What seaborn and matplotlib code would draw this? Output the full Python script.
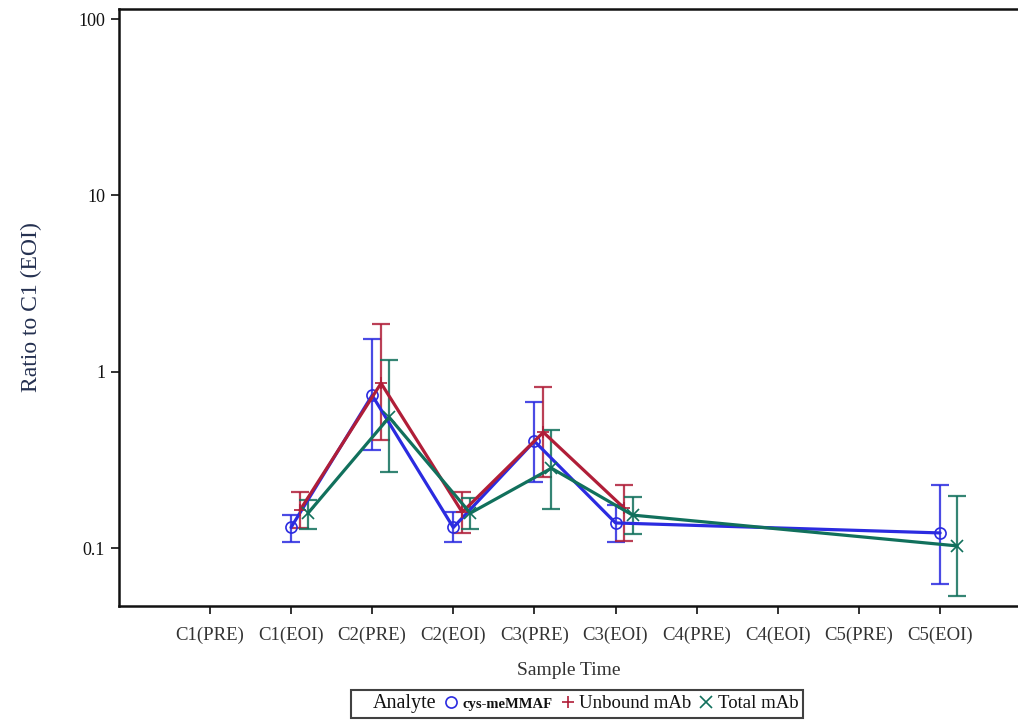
import numpy as np
import pandas as pd
import seaborn as sns
import matplotlib.pyplot as plt
from matplotlib.lines import Line2D

# Sample time categories
categories = ["C1(PRE)", "C1(EOI)", "C2(PRE)", "C2(EOI)", "C3(PRE)",
              "C3(EOI)", "C4(PRE)", "C4(EOI)", "C5(PRE)", "C5(EOI)"]
analytes = ["cys-meMMAF", "Unbound mAb", "Total mAb"]

nan = np.nan
# Ratio to C1 (EOI), with lower / upper error bar ends
mmaf_val = [nan, 0.131, 0.736, 0.131, 0.404, 0.139, nan, nan, nan, 0.122]
mmaf_lo = [nan, 0.108, 0.359, 0.108, 0.237, 0.108, nan, nan, nan, 0.0625]
mmaf_hi = [nan, 0.154, 1.53, 0.160, 0.672, 0.175, nan, nan, nan, 0.227]

unbound_val = [nan, 0.164, 0.861, 0.160, 0.454, 0.168, nan, nan, nan, nan]
unbound_lo = [nan, 0.130, 0.409, 0.122, 0.253, 0.110, nan, nan, nan, nan]
unbound_hi = [nan, 0.208, 1.86, 0.208, 0.817, 0.227, nan, nan, nan, nan]

total_val = [nan, 0.158, 0.552, 0.158, 0.284, 0.154, nan, nan, nan, 0.103]
total_lo = [nan, 0.128, 0.270, 0.128, 0.166, 0.120, nan, nan, nan, 0.0535]
total_hi = [nan, 0.187, 1.16, 0.192, 0.466, 0.194, nan, nan, nan, 0.197]

colors = {"cys-meMMAF": "#2B2BE0", "Unbound mAb": "#B01E38", "Total mAb": "#11705C"}
markers = {"cys-meMMAF": "o", "Unbound mAb": "+", "Total mAb": "x"}
dodge = {"cys-meMMAF": 0.0, "Unbound mAb": 0.11, "Total mAb": 0.21}

# Build long table
rows = []
for name, val, lo, hi in [("cys-meMMAF", mmaf_val, mmaf_lo, mmaf_hi),
                          ("Unbound mAb", unbound_val, unbound_lo, unbound_hi),
                          ("Total mAb", total_val, total_lo, total_hi)]:
    for i, cat in enumerate(categories):
        rows.append({"analyte": name, "time": cat, "pos": i + dodge[name],
                     "value": val[i], "lo": lo[i], "hi": hi[i]})
df = pd.DataFrame(rows).dropna()

sns.set_style("white")
plt.rcParams["font.family"] = ["Liberation Serif", "DejaVu Serif"]

fig = plt.figure(figsize=(10.18, 7.21), dpi=100)
ax = fig.add_axes([119 / 1018, 115 / 721, (1018 - 119) / 1018, 597 / 721])

for name in analytes:
    d = df[df["analyte"] == name]
    # Error bars
    ax.errorbar(d["pos"], d["value"], yerr=[d["value"] - d["lo"], d["hi"] - d["value"]],
                fmt="none", ecolor=colors[name], elinewidth=1.6, capsize=6.5,
                capthick=1.6, alpha=0.85, zorder=2)
    # Line with markers
    sns.lineplot(data=d, x="pos", y="value", color=colors[name], marker=markers[name],
                 estimator=None, sort=True, linewidth=2.3, markersize=8,
                 mfc="none", mec=colors[name], mew=1.2, ax=ax, zorder=3)

ax.set_yscale("log")
ax.set_ylim(0.047, 114)
ax.set_yticks([0.1, 1, 10, 100])
ax.set_yticklabels(["0.1", "1", "10", "100"])
ax.minorticks_off()
ax.set_xlim(-1.12, 9.96)
ax.set_xticks(range(len(categories)))
ax.set_xticklabels(categories)

ax.tick_params(axis="x", labelsize=13.5, length=6, width=1.3, color="#222222",
               labelcolor="#333333", pad=9, bottom=True)
ax.tick_params(axis="y", labelsize=13, length=6, width=1.3, color="#222222",
               labelcolor="#111111", pad=4, left=True)
for side in ["left", "bottom", "top"]:
    ax.spines[side].set_linewidth(1.8)
    ax.spines[side].set_color("#111111")
ax.spines["right"].set_visible(False)

ax.set_xlabel("Sample Time", fontsize=14, color="#333333", labelpad=13)
ax.set_ylabel("Ratio to C1 (EOI)", fontsize=17, color="#243050", labelpad=26)

# Legend with inline "Analyte" title
handles = [Line2D([], [], ls="none")]
for name in analytes:
    handles.append(Line2D([], [], ls="none", marker=markers[name], color=colors[name],
                          mfc="none", markersize=8, mew=1.2))
labels = ["Analyte"] + analytes
leg = fig.legend(handles, labels, loc="lower center", bbox_to_anchor=(577 / 1018, 3 / 721),
                 ncol=4, frameon=True, fancybox=False, edgecolor="#111111",
                 handlelength=0.6, handletextpad=0.3, columnspacing=0.5,
                 borderpad=0.25, borderaxespad=0, fontsize=13.5)
leg.get_frame().set_linewidth(1.5)
texts = leg.get_texts()
texts[0].set_fontsize(14.5)
texts[1].set_fontsize(10.5)
texts[1].set_fontweight("bold")
for t in texts:
    t.set_color("#111111")

fig.savefig("out.png", dpi=100)
